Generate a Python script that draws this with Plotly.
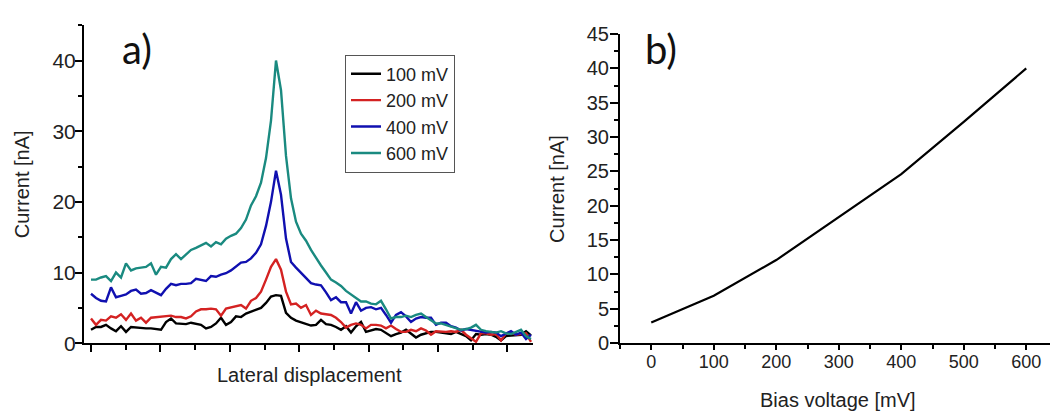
import plotly.graph_objects as go

W, H = 1050, 411

# ---------------- data ----------------
lateral_index = list(range(89))

current_100mV = [
    1.9, 2.3, 2.3, 2.6, 2.1, 1.7, 2.4, 1.6, 2.3, 2.2,
    2.2, 2.1, 2.1, 2.0, 1.9, 3.0, 3.5, 2.8, 2.8, 2.7,
    2.9, 2.8, 2.6, 2.1, 2.3, 2.8, 3.6, 2.6, 3.0, 3.8,
    3.7, 4.2, 4.5, 4.8, 5.0, 5.7, 6.6, 6.8, 6.7, 4.3,
    3.6, 3.2, 3.0, 2.8, 2.5, 2.6, 3.3, 2.7, 2.6, 2.3,
    1.9, 2.4, 1.5, 2.4, 3.0, 1.6, 1.8, 2.0, 1.9, 1.5,
    1.0, 1.3, 1.5, 1.9, 1.4, 0.8, 1.2, 1.4, 1.6, 1.6,
    1.5, 1.4, 1.3, 1.6, 1.3, 1.0, 0.4, 1.3, 1.2, 1.3,
    1.2, 0.9, 0.4, 1.0, 1.1, 1.1, 1.2, 1.7, 1.1]

current_200mV = [
    3.5, 2.6, 3.3, 3.2, 3.8, 3.6, 4.1, 3.3, 4.2, 3.2,
    3.6, 2.9, 3.6, 3.7, 3.8, 3.8, 3.9, 3.7, 3.7, 3.5,
    3.8, 4.5, 4.8, 4.8, 4.9, 4.8, 3.9, 4.9, 5.1, 5.3,
    5.4, 4.9, 6.0, 6.4, 7.3, 9.0, 10.8, 11.9, 10.4, 7.3,
    5.5, 5.6, 5.0, 5.4, 4.0, 4.6, 4.2, 4.1, 4.0, 3.6,
    3.0, 2.2, 2.6, 2.8, 2.6, 2.1, 2.6, 2.6, 2.5, 2.1,
    2.5, 2.0, 1.6, 1.6, 1.9, 1.7, 2.1, 1.8, 1.2, 1.7,
    1.6, 1.6, 1.7, 1.6, 1.9, 1.2, 0.7, 0.2, 1.4, 1.4,
    1.2, 1.3, 0.4, 1.4, 1.5, 1.2, 1.3, 1.4, 0.2]

current_400mV = [
    7.0, 6.4, 6.0, 5.9, 7.9, 6.5, 6.7, 6.9, 7.4, 7.6,
    7.0, 7.1, 7.5, 7.2, 6.8, 7.7, 8.4, 8.2, 8.4, 8.4,
    8.5, 9.1, 9.0, 8.8, 9.5, 9.4, 9.7, 9.9, 10.3, 10.8,
    11.4, 11.5, 12.0, 12.8, 14.0, 16.6, 20.0, 24.4, 21.0, 14.8,
    11.5, 10.7, 10.0, 9.2, 8.5, 8.3, 8.2, 7.2, 6.1, 6.5,
    5.8, 5.8, 4.2, 5.8, 4.6, 5.0, 5.1, 4.8, 5.0, 4.0,
    2.9, 4.0, 4.4, 3.8, 3.0, 3.5, 3.7, 3.6, 3.6, 2.6,
    2.9, 2.9, 2.4, 2.2, 1.8, 2.0, 1.9, 1.7, 1.7, 1.5,
    1.6, 1.5, 1.0, 1.3, 1.7, 1.2, 1.5, 0.6, 1.2]

current_600mV = [
    9.0, 9.0, 9.3, 9.5, 8.8, 10.0, 9.3, 11.3, 10.3, 10.6,
    10.7, 10.8, 11.3, 9.7, 10.8, 10.7, 11.9, 12.6, 11.9, 12.5,
    13.2, 13.5, 13.8, 14.2, 13.7, 14.3, 14.0, 14.8, 15.2, 15.5,
    16.3, 17.5, 19.5, 20.8, 22.7, 26.2, 31.5, 40.0, 35.8, 26.5,
    20.5, 17.2, 15.5, 14.5, 13.2, 12.0, 11.0, 10.0, 9.0, 8.6,
    8.1, 7.4, 6.9, 6.3, 5.9, 5.9, 5.6, 5.5, 6.0, 4.8,
    3.5, 3.7, 3.7, 3.9, 3.7, 4.0, 4.2, 3.7, 3.3, 2.8,
    2.8, 2.6, 2.4, 2.2, 1.9, 2.0, 2.2, 2.6, 1.9, 1.7,
    1.6, 1.5, 1.7, 1.4, 1.3, 1.6, 1.9, 1.0, 0.6]

series_names = ["100 mV", "200 mV", "400 mV", "600 mV"]
series_colors = ["#000000", "#d42222", "#1010b0", "#1a8a80"]

bias_mV = [0, 100, 200, 300, 400, 500, 600]
peak_current_nA = [3.0, 6.9, 12.1, 18.4, 24.6, 32.2, 40.0]

# ---------------- figure ----------------
FONT = "Liberation Sans, Arial, sans-serif"
TXT = "#222222"
fig = go.Figure()

for name, col, ys in zip(series_names, series_colors,
                         [current_100mV, current_200mV, current_400mV, current_600mV]):
    fig.add_trace(go.Scatter(x=lateral_index, y=ys, mode="lines", name=name,
                             line=dict(color=col, width=2.4),
                             xaxis="x", yaxis="y"))

fig.add_trace(go.Scatter(x=bias_mV, y=peak_current_nA, mode="lines",
                         line=dict(color="#000000", width=2.2),
                         showlegend=False, xaxis="x2", yaxis="y2"))

def px_x(p):
    return p / W

def px_y(p):
    return (H - p) / H

axis_common = dict(showgrid=False, zeroline=False, showline=True,
                   linecolor="black", linewidth=2, ticks="outside",
                   tickcolor="black", tickwidth=2)

fig.update_layout(
    width=W, height=H,
    margin=dict(l=0, r=0, t=0, b=0),
    paper_bgcolor="white", plot_bgcolor="white",
    showlegend=True,
    xaxis=dict(domain=[px_x(84), px_x(533)], range=[-1.4, 88.4],
               tick0=0, dtick=13.88, showticklabels=False, ticklen=7,
               minor=dict(ticks="outside", dtick=6.94, tick0=0, ticklen=5,
                          tickcolor="black", tickwidth=2),
               anchor="y", **axis_common),
    yaxis=dict(domain=[px_y(351), px_y(15)], range=[0, 45],
               tick0=0, dtick=10, ticklen=7, ticklabelstandoff=-5,
               tickfont=dict(family=FONT, size=21, color=TXT),
               minor=dict(ticks="outside", dtick=5, ticklen=4,
                          tickcolor="black", tickwidth=2),
               anchor="x", **axis_common),
    xaxis2=dict(domain=[px_x(620), 1.0], range=[-50, 638],
                tick0=0, dtick=100, ticklen=5, ticklabelstandoff=-4,
                tickfont=dict(family=FONT, size=18, color=TXT),
                minor=dict(ticks="outside", dtick=50, ticklen=4,
                           tickcolor="black", tickwidth=2),
                anchor="y2", **axis_common),
    yaxis2=dict(domain=[px_y(351), px_y(24.3)], range=[0, 45],
                tick0=0, dtick=5, ticklen=8, ticklabelstandoff=-3,
                tickfont=dict(family=FONT, size=20, color=TXT),
                minor=dict(ticks="outside", dtick=2.5, ticklen=4,
                           tickcolor="black", tickwidth=2),
                anchor="x2", **axis_common),
    legend=dict(x=px_x(345), y=px_y(46), xanchor="left", yanchor="top",
                bgcolor="white", bordercolor="#555", borderwidth=1,
                font=dict(family=FONT, size=18, color=TXT),
                tracegroupgap=0, itemwidth=30),
)

annotations = [
    dict(text="Current [nA]", x=px_x(22), y=px_y(183), textangle=-90,
         font=dict(family=FONT, size=20, color=TXT)),
    dict(text="Lateral displacement", x=px_x(309), y=px_y(385),
         font=dict(family=FONT, size=20, color=TXT)),
    dict(text="Current [nA]", x=px_x(557), y=px_y(188), textangle=-90,
         font=dict(family=FONT, size=20, color=TXT)),
    dict(text="Bias voltage [mV]", x=px_x(838), y=px_y(411),
         font=dict(family=FONT, size=20, color=TXT)),
    dict(text="a)", x=px_x(120), y=px_y(40), xanchor="left",
         font=dict(family="Lato, Open Sans, sans-serif", size=40, color="#111")),
    dict(text="b)", x=px_x(643), y=px_y(40), xanchor="left",
         font=dict(family="Lato, Open Sans, sans-serif", size=40, color="#111")),
]
for a in annotations:
    a.update(xref="paper", yref="paper", showarrow=False)
    if "xanchor" not in a:
        a["xanchor"] = "center"
    a["yanchor"] = "middle"
fig.update_layout(annotations=annotations)

fig.write_html("out.html")
